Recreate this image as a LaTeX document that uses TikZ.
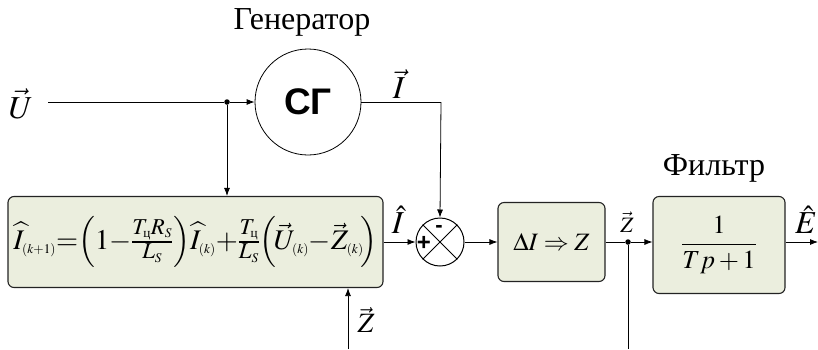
\documentclass[tikz,border=0pt]{standalone}
\usepackage{amsmath}
\usepackage{mathptmx}
\usepackage{fontspec}
\setmainfont{Liberation Serif}
\newfontfamily\sansb{Liberation Sans}
\usetikzlibrary{arrows.meta}
\DeclareMathSizes{30}{30}{24}{14}
\definecolor{boxfill}{RGB}{235,238,222}
\definecolor{boxdraw}{RGB}{35,35,35}
\tikzset{
  blk/.style={draw=boxdraw, line width=1.1pt, fill=boxfill, rounded corners=6pt, inner sep=0pt},
  conn/.style={line width=0.8pt, -{Latex[length=8pt,width=6pt]}},
  wire/.style={line width=0.8pt},
  junc/.style={circle, fill=black, inner sep=0pt, minimum size=5.5pt},
  lbl/.style={inner sep=0pt},
}
\newcommand{\sss}[1]{{\scriptscriptstyle #1}}
\begin{document}
\begin{tikzpicture}[x=1pt,y=-1pt]
\useasboundingbox (0,0) rectangle (818,349);
% blocks
\node[draw, line width=0.8pt, circle, minimum size=106pt, inner sep=0pt] (gen) at (308,102) {\sansb\bfseries\fontsize{37}{40}\selectfont СГ};
\node[lbl] (gentxt) at (302,22) {\fontsize{32}{36}\selectfont Генератор};
\node[draw, line width=1pt, circle, minimum size=48pt, inner sep=0pt] (sum) at (440,242) {};
\draw[line width=0.8pt] (sum.north west) -- (sum.south east) (sum.north east) -- (sum.south west);
\node[lbl] (plus) at (424,243) {\sansb\bfseries\fontsize{24}{24}\selectfont +};
\node[lbl] (minus) at (439,229) {\sansb\bfseries\fontsize{22}{22}\selectfont -};
\node[blk, minimum width=375pt, minimum height=91pt] (eq) at (195.5,242)
 {\resizebox{364pt}{!}{\fontsize{30}{34}\selectfont$\widehat{I}_{\sss{(k+1)}}\mathord{=}\!\left(1\mathord{-}\frac{T_{\text{ц}}R_S}{L_S}\right)\!\widehat{I}_{\sss{(k)}}\mathord{+}\frac{T_{\text{ц}}}{L_S}\!\left(\!\vec{U}_{\sss{(k)}}\mathord{-}\vec{Z}_{\sss{(k)}}\!\right)$}};
\node[blk, minimum width=107pt, minimum height=79pt] (dz) at (551.5,242)
 {\fontsize{25}{30}\selectfont$\Delta I\Rightarrow Z$};
\node[blk, minimum width=132pt, minimum height=97pt] (filt) at (719,245)
 {\fontsize{26}{30}\selectfont$\dfrac{1}{Tp+1}$};
\node[lbl] (filttxt) at (714,168) {\fontsize{32}{36}\selectfont Фильтр};
% coordinates
\coordinate (uin) at (48,102);
\node[junc] (j1) at (227,102) {};
\node[junc] (j2) at (628,242) {};
\coordinate (ibend) at (441,102);
\coordinate (zbot) at (348,349);
\coordinate (j2bot) at (628,349);
\coordinate (eout) at (818,242);
% labels
\node[lbl] (ul) at (21,104) {\fontsize{32}{36}\selectfont$\vec{U}$};
\node[lbl] (il) at (399,84) {\fontsize{32}{36}\selectfont$\vec{I}$};
\node[lbl] (ihl) at (398,220) {\fontsize{32}{36}\selectfont$\hat{I}$};
\node[lbl] (zl) at (627,222) {\fontsize{22}{26}\selectfont$\vec{Z}$};
\node[lbl] (zbl) at (366,320) {\fontsize{28}{32}\selectfont$\vec{Z}$};
\node[lbl] (el) at (806,220) {\fontsize{32}{36}\selectfont$\hat{E}$};
% connectors
\draw[wire] (uin) -- (j1);
\draw[conn] (j1) -- (gen.west);
\draw[conn] (j1) -- (j1 |- eq.north);
\draw[wire] (gen.east) -- (ibend);
\draw[conn] (ibend) -- (sum.north);
\draw[conn] (eq.east |- sum.west) -- (sum.west);
\draw[conn] (sum.east) -- (dz.west);
\draw[wire] (dz.east) -- (j2);
\draw[conn] (j2) -- (filt.west |- j2);
\draw[wire] (j2) -- (j2bot);
\draw[conn] (zbot) -- (zbot |- eq.south);
\draw[conn] (filt.east |- eout) -- (eout);
\end{tikzpicture}
\end{document}
